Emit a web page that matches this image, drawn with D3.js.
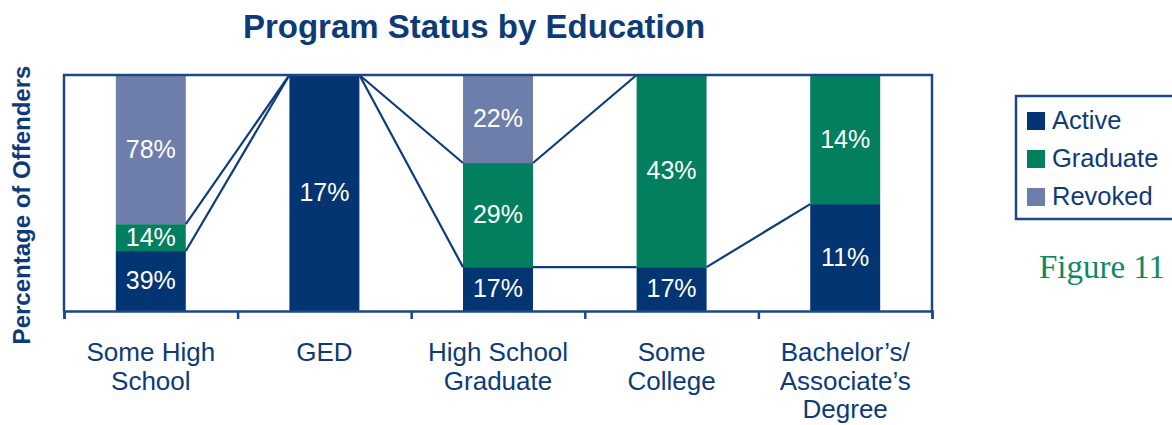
<!DOCTYPE html>
<html>
<head>
<meta charset="utf-8">
<script src="https://cdn.jsdelivr.net/npm/d3@7"></script>
<style>
  html, body { margin: 0; padding: 0; background: #ffffff; }
  svg { display: block; }
  text { font-family: "Liberation Sans", Arial, Helvetica, sans-serif; }
  text.caption { font-family: "Liberation Serif", "DejaVu Serif", serif; }
</style>
</head>
<body>
<svg id="chart" width="1172" height="425"></svg>
<script>
// Education groups along the x axis (multi-line labels)
const categories = ["Some High School", "GED", "High School Graduate", "Some College", "Bachelor’s/ Associate’s Degree"];
const categoryLines = [["Some High", "School"], ["GED"], ["High School", "Graduate"], ["Some", "College"], ["Bachelor’s/", "Associate’s", "Degree"]];

// Share of each education group by program status (segment heights, 100% stacked)
const activeShare   = [25.4, 100, 18.6, 18.6, 45.3];
const graduateShare = [11.4,   0, 44.1, 81.4, 54.7];
const revokedShare  = [63.2,   0, 37.3,  0,    0  ];

// Percent of each status group falling in each education group (segment labels)
const activeLabel   = [39, 17, 17, 17, 11];
const graduateLabel = [14,  0, 29, 43, 14];
const revokedLabel  = [78,  0, 22,  0,  0];

const seriesNames  = ["Active", "Graduate", "Revoked"];
const seriesColors = ["#033573", "#027f5f", "#6e7eaa"];

const navy = "#0d3b78";
const frameColor = "#1c4886";

const rows = categories.map((c, i) => ({
  category: c,
  Active: activeShare[i], Graduate: graduateShare[i], Revoked: revokedShare[i],
  labels: { Active: activeLabel[i], Graduate: graduateLabel[i], Revoked: revokedLabel[i] }
}));

const svg = d3.select("#chart");

const plot = { left: 64, right: 932, top: 75, bottom: 311 };

const x = d3.scaleBand()
  .domain(categories)
  .range([plot.left, plot.right])
  .paddingInner(0.597)
  .paddingOuter(0.2985);

// Category boundaries for the tick marks
const xEdge = d3.scaleLinear().domain([0, categories.length]).range([plot.left, plot.right]);

const y = d3.scaleLinear().domain([0, 1]).range([plot.bottom, plot.top]);

const color = d3.scaleOrdinal().domain(seriesNames).range(seriesColors);

const stacked = d3.stack()
  .keys(seriesNames)
  .offset(d3.stackOffsetExpand)(rows);

// Title
svg.append("text")
  .attr("x", 474).attr("y", 38)
  .attr("text-anchor", "middle")
  .attr("font-size", 33).attr("font-weight", "bold")
  .attr("fill", navy)
  .text("Program Status by Education");

// Y-axis title
svg.append("text")
  .attr("transform", "translate(30,205) rotate(-90)")
  .attr("text-anchor", "middle")
  .attr("font-size", 24).attr("font-weight", "bold")
  .attr("fill", navy)
  .text("Percentage of Offenders");

// Bars
const layer = svg.append("g").selectAll("g")
  .data(stacked)
  .join("g")
  .attr("fill", d => color(d.key));

layer.selectAll("rect")
  .data(d => d.map(s => ({ key: d.key, s })))
  .join("rect")
  .attr("x", d => x(d.s.data.category))
  .attr("width", x.bandwidth())
  .attr("y", d => y(d.s[1]))
  .attr("height", d => y(d.s[0]) - y(d.s[1]));

// Series lines joining the top of each segment between neighbouring bars
const lineGen = d3.line();
stacked.forEach(series => {
  const segs = [];
  for (let i = 0; i < series.length - 1; i++) {
    const a = series[i], b = series[i + 1];
    segs.push([
      [x(a.data.category) + x.bandwidth(), y(a[1])],
      [x(b.data.category), y(b[1])]
    ]);
  }
  svg.append("g").selectAll("path")
    .data(segs)
    .join("path")
    .attr("d", lineGen)
    .attr("fill", "none")
    .attr("stroke", "#0c3c7c")
    .attr("stroke-width", 2.2);
});

// Segment labels
stacked.forEach(series => {
  svg.append("g").selectAll("text")
    .data(series.filter(s => s.data.labels[series.key] > 0))
    .join("text")
    .attr("x", s => x(s.data.category) + x.bandwidth() / 2)
    .attr("y", s => (y(s[0]) + y(s[1])) / 2)
    .attr("dy", "0.32em")
    .attr("text-anchor", "middle")
    .attr("font-size", 25)
    .attr("fill", "#ffffff")
    .text(s => s.data.labels[series.key] + "%");
});

// Plot frame
const frame = svg.append("g")
  .attr("stroke", frameColor).attr("stroke-width", 2.5).attr("fill", "none");
frame.append("path")
  .attr("d", `M${plot.left},${plot.bottom} V${plot.top} H${plot.right} V${plot.bottom}`);

// Bottom axis with ticks at category boundaries
const xAxis = d3.axisBottom(xEdge)
  .tickValues(d3.range(categories.length + 1))
  .tickSize(8)
  .tickFormat("");
const axisG = svg.append("g")
  .attr("transform", `translate(0,${plot.bottom})`)
  .call(xAxis);
axisG.select(".domain").attr("stroke", frameColor).attr("stroke-width", 2.5);
axisG.selectAll(".tick line").attr("stroke", frameColor).attr("stroke-width", 2.5);

// Category labels
const catG = svg.append("g").selectAll("text")
  .data(categories)
  .join("text")
  .attr("x", d => x(d) + x.bandwidth() / 2)
  .attr("y", 361)
  .attr("text-anchor", "middle")
  .attr("font-size", 26)
  .attr("fill", navy);
catG.selectAll("tspan")
  .data((d, i) => categoryLines[i])
  .join("tspan")
  .attr("x", function () { return this.parentNode.getAttribute("x"); })
  .attr("dy", (d, j) => j === 0 ? 0 : 28.5)
  .text(d => d);

// Legend
const legend = svg.append("g");
legend.append("rect")
  .attr("x", 1016).attr("y", 96)
  .attr("width", 170).attr("height", 123)
  .attr("fill", "none")
  .attr("stroke", frameColor).attr("stroke-width", 2.5);
const items = legend.selectAll("g.item")
  .data(seriesNames)
  .join("g")
  .attr("class", "item")
  .attr("transform", (d, i) => `translate(1027,${112 + i * 38})`);
items.append("rect")
  .attr("width", 18).attr("height", 18)
  .attr("fill", d => color(d));
items.append("text")
  .attr("x", 25).attr("y", 17)
  .attr("font-size", 25.5)
  .attr("fill", navy)
  .text(d => d);

// Figure caption
svg.append("text")
  .attr("class", "caption")
  .attr("x", 1102).attr("y", 278)
  .attr("text-anchor", "middle")
  .attr("font-size", 33)
  .attr("fill", "#0d8a62")
  .text("Figure 11");
</script>
</body>
</html>
